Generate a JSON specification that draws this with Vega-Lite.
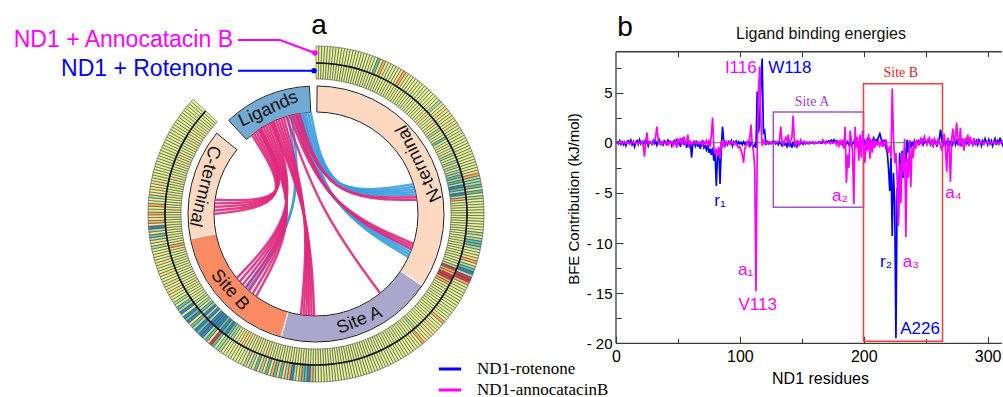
{
"$schema":"https://vega.github.io/schema/vega-lite/v6.json",
"padding":0,
"background":"white",
"config":{"view":{"stroke":null},"font":"Liberation Sans"},
"spacing":0,
"bounds":"flush",
"resolve":{"scale":{"x":"independent","y":"independent","color":"independent"}},
"datasets":{
"bfe":[
{"r":1,"rot":0.15,"ann":0.05},{"r":2,"rot":-0.1,"ann":-0.05},{"r":3,"rot":0.2,"ann":0.1},{"r":4,"rot":-0.15,"ann":0},{"r":5,"rot":0.1,"ann":-0.1},{"r":6,"rot":-0.2,"ann":0.05},{"r":7,"rot":0.05,"ann":0},{"r":8,"rot":-0.3,"ann":-0.05},{"r":9,"rot":0.1,"ann":0.1},{"r":10,"rot":0.2,"ann":0},
{"r":11,"rot":-0.1,"ann":-0.1},{"r":12,"rot":0.25,"ann":0.05},{"r":13,"rot":-0.2,"ann":0},{"r":14,"rot":0.1,"ann":0.1},{"r":15,"rot":-0.4,"ann":-0.05},{"r":16,"rot":0.05,"ann":0},{"r":17,"rot":0.2,"ann":0.05},{"r":18,"rot":-0.15,"ann":-0.1},{"r":19,"rot":0.3,"ann":0.05},{"r":20,"rot":-0.1,"ann":0},
{"r":21,"rot":0.1,"ann":0.1},{"r":22,"rot":-0.2,"ann":-0.3},{"r":23,"rot":0.15,"ann":-1.4},{"r":24,"rot":-0.05,"ann":0.2},{"r":25,"rot":0.2,"ann":1.0},{"r":26,"rot":-0.3,"ann":-0.1},{"r":27,"rot":0.1,"ann":0.05},{"r":28,"rot":0.05,"ann":0},{"r":29,"rot":-0.15,"ann":-0.1},{"r":30,"rot":0.2,"ann":0.1},
{"r":31,"rot":-0.1,"ann":0.2},{"r":32,"rot":0.15,"ann":0.6},{"r":33,"rot":-0.25,"ann":1.6},{"r":34,"rot":0.1,"ann":0.4},{"r":35,"rot":0.3,"ann":-0.1},{"r":36,"rot":-0.1,"ann":0.05},{"r":37,"rot":0.05,"ann":-0.2},{"r":38,"rot":-0.2,"ann":0.1},{"r":39,"rot":0.2,"ann":0},{"r":40,"rot":0.1,"ann":-0.1},
{"r":41,"rot":-0.15,"ann":0.05},{"r":42,"rot":0.25,"ann":-0.2},{"r":43,"rot":-0.05,"ann":0.1},{"r":44,"rot":0.1,"ann":-0.1},{"r":45,"rot":-0.3,"ann":0.05},{"r":46,"rot":0.05,"ann":-0.3},{"r":47,"rot":0.2,"ann":0.1},{"r":48,"rot":-0.2,"ann":0.2},{"r":49,"rot":0.4,"ann":-0.5},{"r":50,"rot":-0.1,"ann":0.3},
{"r":51,"rot":0.3,"ann":0.1},{"r":52,"rot":-0.4,"ann":0.5},{"r":53,"rot":0.1,"ann":-0.2},{"r":54,"rot":0.5,"ann":0.2},{"r":55,"rot":-0.2,"ann":0.6},{"r":56,"rot":0.2,"ann":-0.3},{"r":57,"rot":-0.5,"ann":0.1},{"r":58,"rot":0.1,"ann":0.8},{"r":59,"rot":-0.3,"ann":-0.2},{"r":60,"rot":0.2,"ann":0.1},
{"r":61,"rot":-1.5,"ann":-0.1},{"r":62,"rot":-0.2,"ann":0.05},{"r":63,"rot":0.1,"ann":-0.1},{"r":64,"rot":-0.3,"ann":0.1},{"r":65,"rot":0.2,"ann":0},{"r":66,"rot":-0.4,"ann":-0.1},{"r":67,"rot":0.1,"ann":0.05},{"r":68,"rot":-0.6,"ann":-0.1},{"r":69,"rot":-0.2,"ann":0.1},{"r":70,"rot":0.1,"ann":-0.2},
{"r":71,"rot":-0.5,"ann":0.1},{"r":72,"rot":-0.3,"ann":-0.1},{"r":73,"rot":-0.7,"ann":0.2},{"r":74,"rot":-0.2,"ann":-0.3},{"r":75,"rot":-1.0,"ann":0.3},{"r":76,"rot":-0.6,"ann":-0.4},{"r":77,"rot":-1.2,"ann":0.8},{"r":78,"rot":-0.5,"ann":2.5},{"r":79,"rot":-1.8,"ann":-0.5},{"r":80,"rot":-1.0,"ann":-1.0},
{"r":81,"rot":-4.3,"ann":-0.6},{"r":82,"rot":-1.2,"ann":-1.3},{"r":83,"rot":-0.6,"ann":-0.4},{"r":84,"rot":-4.1,"ann":-1.6},{"r":85,"rot":-0.5,"ann":0.2},{"r":86,"rot":1.6,"ann":-0.5},{"r":87,"rot":0.2,"ann":0.1},{"r":88,"rot":-0.3,"ann":-0.2},{"r":89,"rot":0.1,"ann":0.1},{"r":90,"rot":-0.2,"ann":-0.1},
{"r":91,"rot":0.1,"ann":0.05},{"r":92,"rot":-0.1,"ann":-0.1},{"r":93,"rot":0.2,"ann":0.1},{"r":94,"rot":-0.3,"ann":0},{"r":95,"rot":0.1,"ann":-0.2},{"r":96,"rot":-0.1,"ann":0.05},{"r":97,"rot":0.15,"ann":-0.1},{"r":98,"rot":-0.2,"ann":-0.3},{"r":99,"rot":0.1,"ann":-0.5},{"r":100,"rot":-0.1,"ann":-0.4},
{"r":101,"rot":0.05,"ann":-0.8},{"r":102,"rot":-0.2,"ann":-1.2},{"r":103,"rot":0.1,"ann":-2.0},{"r":104,"rot":-0.15,"ann":-0.6},{"r":105,"rot":0.05,"ann":-0.3},{"r":106,"rot":-0.1,"ann":0.1},{"r":107,"rot":0.1,"ann":-0.2},{"r":108,"rot":-0.3,"ann":0.5},{"r":109,"rot":0.05,"ann":1.8},{"r":110,"rot":-0.2,"ann":-0.3},
{"r":111,"rot":-0.4,"ann":-0.9},{"r":112,"rot":-0.2,"ann":-2.5},{"r":113,"rot":-0.5,"ann":-14.8},{"r":114,"rot":5.1,"ann":-1.0},{"r":115,"rot":1.0,"ann":5.0},{"r":116,"rot":2.0,"ann":7.6},{"r":117,"rot":6.0,"ann":2.0},{"r":118,"rot":8.4,"ann":-0.3},{"r":119,"rot":1.0,"ann":0.2},{"r":120,"rot":1.2,"ann":-0.1},
{"r":121,"rot":-0.2,"ann":0.05},{"r":122,"rot":0.1,"ann":-0.05},{"r":123,"rot":-0.1,"ann":0.1},{"r":124,"rot":0.05,"ann":0},{"r":125,"rot":-0.1,"ann":-0.1},{"r":126,"rot":0.1,"ann":0.05},{"r":127,"rot":-0.05,"ann":0},{"r":128,"rot":0.1,"ann":-0.05},{"r":129,"rot":-0.1,"ann":0.1},{"r":130,"rot":0.05,"ann":0},
{"r":131,"rot":-0.2,"ann":0.1},{"r":132,"rot":0.1,"ann":0.3},{"r":133,"rot":-0.1,"ann":1.6},{"r":134,"rot":-0.3,"ann":0.2},{"r":135,"rot":0.05,"ann":-0.2},{"r":136,"rot":-0.2,"ann":0.1},{"r":137,"rot":-0.1,"ann":0.5},{"r":138,"rot":-0.4,"ann":0.2},{"r":139,"rot":0.05,"ann":0.8},{"r":140,"rot":-0.3,"ann":-0.1},
{"r":141,"rot":-0.1,"ann":0.2},{"r":142,"rot":-0.5,"ann":0.5},{"r":143,"rot":0.1,"ann":2.7},{"r":144,"rot":-0.3,"ann":0.3},{"r":145,"rot":-0.1,"ann":-0.4},{"r":146,"rot":-0.4,"ann":0.2},{"r":147,"rot":0.05,"ann":0.1},{"r":148,"rot":-0.2,"ann":-0.2},{"r":149,"rot":-0.1,"ann":0.3},{"r":150,"rot":0.05,"ann":0.1},
{"r":151,"rot":-0.15,"ann":0},{"r":152,"rot":0.1,"ann":0.1},{"r":153,"rot":-0.1,"ann":-0.05},{"r":154,"rot":0.05,"ann":0.05},{"r":155,"rot":-0.1,"ann":0},{"r":156,"rot":0.05,"ann":-0.1},{"r":157,"rot":0,"ann":0.05},{"r":158,"rot":-0.05,"ann":0},{"r":159,"rot":0.05,"ann":0.1},{"r":160,"rot":-0.1,"ann":-0.05},
{"r":161,"rot":0.05,"ann":0},{"r":162,"rot":0,"ann":0.05},{"r":163,"rot":-0.05,"ann":-0.05},{"r":164,"rot":0.1,"ann":0},{"r":165,"rot":0,"ann":0.1},{"r":166,"rot":-0.05,"ann":0.05},{"r":167,"rot":0.05,"ann":0.3},{"r":168,"rot":0.1,"ann":0.1},{"r":169,"rot":-0.05,"ann":-0.05},{"r":170,"rot":0.15,"ann":0.05},
{"r":171,"rot":0.05,"ann":0},{"r":172,"rot":0.2,"ann":0.1},{"r":173,"rot":0.1,"ann":-0.1},{"r":174,"rot":0.25,"ann":0.05},{"r":175,"rot":0.05,"ann":-0.05},{"r":176,"rot":0.3,"ann":0},{"r":177,"rot":0.1,"ann":0.1},{"r":178,"rot":0.2,"ann":-0.2},{"r":179,"rot":0,"ann":0.1},{"r":180,"rot":0.1,"ann":-0.3},
{"r":181,"rot":-0.1,"ann":0.2},{"r":182,"rot":0.05,"ann":-0.1},{"r":183,"rot":-0.2,"ann":0.3},{"r":184,"rot":0.1,"ann":-0.6},{"r":185,"rot":-0.3,"ann":1.6},{"r":186,"rot":-0.1,"ann":-4.0},{"r":187,"rot":0.1,"ann":-1.2},{"r":188,"rot":-0.2,"ann":-2.5},{"r":189,"rot":0.05,"ann":1.2},{"r":190,"rot":-0.3,"ann":0.3},
{"r":191,"rot":-0.1,"ann":-1.0},{"r":192,"rot":0.1,"ann":-6.1},{"r":193,"rot":-0.2,"ann":1.6},{"r":194,"rot":0.05,"ann":-0.5},{"r":195,"rot":0.1,"ann":0.6},{"r":196,"rot":-0.1,"ann":-1.8},{"r":197,"rot":0.2,"ann":0.8},{"r":198,"rot":-0.1,"ann":-1.5},{"r":199,"rot":0.1,"ann":1.2},{"r":200,"rot":0.3,"ann":-0.3},
{"r":201,"rot":-0.1,"ann":-2.0},{"r":202,"rot":0.2,"ann":0.4},{"r":203,"rot":0.4,"ann":-0.8},{"r":204,"rot":0.1,"ann":0.9},{"r":205,"rot":0.3,"ann":-1.6},{"r":206,"rot":-0.2,"ann":0.3},{"r":207,"rot":0.2,"ann":-1.0},{"r":208,"rot":0.5,"ann":0.4},{"r":209,"rot":0.1,"ann":-0.5},{"r":210,"rot":0.3,"ann":0.2},
{"r":211,"rot":0.2,"ann":-0.2},{"r":212,"rot":0.6,"ann":0.1},{"r":213,"rot":0.9,"ann":-0.3},{"r":214,"rot":0.4,"ann":0.2},{"r":215,"rot":0.2,"ann":-0.4},{"r":216,"rot":-0.3,"ann":0.1},{"r":217,"rot":0.3,"ann":-0.2},{"r":218,"rot":-0.5,"ann":0.3},{"r":219,"rot":-1.0,"ann":-0.5},{"r":220,"rot":-2.5,"ann":-1.0},
{"r":221,"rot":-4.8,"ann":-0.3},{"r":222,"rot":-1.5,"ann":-1.5},{"r":223,"rot":-9.3,"ann":5.4},{"r":224,"rot":-3.0,"ann":0.5},{"r":225,"rot":-6.0,"ann":-2.0},{"r":226,"rot":-19.5,"ann":-1.0},{"r":227,"rot":-4.5,"ann":-3.5},{"r":228,"rot":-7.5,"ann":-8.3},{"r":229,"rot":-1.0,"ann":-2.0},{"r":230,"rot":-5.0,"ann":-6.0},
{"r":231,"rot":-0.8,"ann":-1.0},{"r":232,"rot":-3.5,"ann":-3.0},{"r":233,"rot":-0.5,"ann":0.4},{"r":234,"rot":-2.0,"ann":-9.4},{"r":235,"rot":0.3,"ann":-1.5},{"r":236,"rot":-1.0,"ann":-3.5},{"r":237,"rot":0.2,"ann":0.3},{"r":238,"rot":-0.5,"ann":-4.4},{"r":239,"rot":0.1,"ann":-0.5},{"r":240,"rot":-0.3,"ann":-1.5},
{"r":241,"rot":0.2,"ann":0.2},{"r":242,"rot":-0.1,"ann":-0.6},{"r":243,"rot":0.1,"ann":0.3},{"r":244,"rot":0.2,"ann":-0.2},{"r":245,"rot":-0.1,"ann":0.1},{"r":246,"rot":0.1,"ann":0.4},{"r":247,"rot":0.3,"ann":-0.1},{"r":248,"rot":-0.2,"ann":0.2},{"r":249,"rot":0.1,"ann":0.6},{"r":250,"rot":0.2,"ann":0.1},
{"r":251,"rot":-0.1,"ann":-0.2},{"r":252,"rot":0.3,"ann":0.3},{"r":253,"rot":0.1,"ann":0.5},{"r":254,"rot":-0.2,"ann":-0.1},{"r":255,"rot":0.2,"ann":0.2},{"r":256,"rot":-0.3,"ann":-0.3},{"r":257,"rot":0.1,"ann":0.4},{"r":258,"rot":0.2,"ann":0.1},{"r":259,"rot":-0.4,"ann":-0.2},{"r":260,"rot":0.1,"ann":0.3},
{"r":261,"rot":0.4,"ann":0.1},{"r":262,"rot":1.3,"ann":-0.3},{"r":263,"rot":0.3,"ann":-0.8},{"r":264,"rot":-0.2,"ann":0.2},{"r":265,"rot":0.2,"ann":0.9},{"r":266,"rot":-0.3,"ann":-0.5},{"r":267,"rot":0.1,"ann":-2.9},{"r":268,"rot":0.3,"ann":0.5},{"r":269,"rot":-0.2,"ann":-0.6},{"r":270,"rot":0.2,"ann":-3.9},
{"r":271,"rot":-0.4,"ann":0.4},{"r":272,"rot":0.1,"ann":1.4},{"r":273,"rot":0.3,"ann":-0.2},{"r":274,"rot":-0.2,"ann":0.6},{"r":275,"rot":0.2,"ann":2.0},{"r":276,"rot":-0.1,"ann":0.3},{"r":277,"rot":0.4,"ann":-0.3},{"r":278,"rot":-0.3,"ann":1.5},{"r":279,"rot":0.1,"ann":-0.4},{"r":280,"rot":0.3,"ann":0.3},
{"r":281,"rot":-0.2,"ann":-0.8},{"r":282,"rot":0.2,"ann":0.5},{"r":283,"rot":-0.1,"ann":0.2},{"r":284,"rot":0.3,"ann":0.8},{"r":285,"rot":-0.3,"ann":-0.3},{"r":286,"rot":0.2,"ann":0.6},{"r":287,"rot":0.1,"ann":0.1},{"r":288,"rot":-0.2,"ann":-0.2},{"r":289,"rot":0.4,"ann":0.3},{"r":290,"rot":-0.1,"ann":0.1},
{"r":291,"rot":0.2,"ann":-0.1},{"r":292,"rot":-0.2,"ann":0.2},{"r":293,"rot":0.3,"ann":0.05},{"r":294,"rot":0.1,"ann":-0.1},{"r":295,"rot":-0.3,"ann":0.1},{"r":296,"rot":0.2,"ann":0},{"r":297,"rot":-0.1,"ann":-0.05},{"r":298,"rot":0.4,"ann":0.1},{"r":299,"rot":0.1,"ann":0},{"r":300,"rot":-0.2,"ann":-0.1},
{"r":301,"rot":0.3,"ann":0.05},{"r":302,"rot":-0.1,"ann":0.1},{"r":303,"rot":0.2,"ann":-0.05},{"r":304,"rot":-0.3,"ann":0},{"r":305,"rot":0.1,"ann":0.1},{"r":306,"rot":0.4,"ann":-0.05},{"r":307,"rot":-0.2,"ann":0.05},{"r":308,"rot":0.2,"ann":0},{"r":309,"rot":-0.1,"ann":-0.1},{"r":310,"rot":0.5,"ann":0.05},
{"r":311,"rot":0.1,"ann":0},{"r":312,"rot":-0.2,"ann":0.1},{"r":313,"rot":0.3,"ann":-0.05},{"r":314,"rot":-0.1,"ann":0},{"r":315,"rot":0.2,"ann":0.05},{"r":316,"rot":0.1,"ann":-0.1},{"r":317,"rot":-0.2,"ann":0},{"r":318,"rot":0.1,"ann":0.05}
],
"chords":[
{"c":"H1","g":"rot","s":0,"x":-0.1736,"y":0.9848},{"c":"H1","g":"rot","s":1,"x":0.0978,"y":0.1597},{"c":"H1","g":"rot","s":2,"x":0.9563,"y":0.2924},
{"c":"H2","g":"rot","s":0,"x":-0.1392,"y":0.9903},{"c":"H2","g":"rot","s":1,"x":0.1031,"y":0.1572},{"c":"H2","g":"rot","s":2,"x":0.9636,"y":0.2672},
{"c":"H3","g":"rot","s":0,"x":-0.1045,"y":0.9945},{"c":"H3","g":"rot","s":1,"x":0.1082,"y":0.1546},{"c":"H3","g":"rot","s":2,"x":0.9703,"y":0.2419},
{"c":"H4","g":"rot","s":0,"x":-0.0785,"y":0.9969},{"c":"H4","g":"rot","s":1,"x":0.1122,"y":0.1517},{"c":"H4","g":"rot","s":2,"x":0.9763,"y":0.2164},
{"c":"H5","g":"rot","s":0,"x":-0.0523,"y":0.9986},{"c":"H5","g":"rot","s":1,"x":0.1162,"y":0.1487},{"c":"H5","g":"rot","s":2,"x":0.9816,"y":0.1908},
{"c":"G1","g":"rot","s":0,"x":-0.2250,"y":0.9744},{"c":"G1","g":"rot","s":1,"x":0.0890,"y":0.0780},{"c":"G1","g":"rot","s":2,"x":0.9367,"y":-0.3502},
{"c":"G2","g":"rot","s":0,"x":-0.1908,"y":0.9816},{"c":"G2","g":"rot","s":1,"x":0.0921,"y":0.0759},{"c":"G2","g":"rot","s":2,"x":0.9272,"y":-0.3746},
{"c":"G3","g":"rot","s":0,"x":-0.1564,"y":0.9877},{"c":"G3","g":"rot","s":1,"x":0.0951,"y":0.0736},{"c":"G3","g":"rot","s":2,"x":0.9171,"y":-0.3987},
{"c":"G4","g":"rot","s":0,"x":-0.1219,"y":0.9925},{"c":"G4","g":"rot","s":1,"x":0.0981,"y":0.0712},{"c":"G4","g":"rot","s":2,"x":0.9063,"y":-0.4226},
{"c":"I1","g":"rot","s":0,"x":-0.2756,"y":0.9613},{"c":"I1","g":"rot","s":1,"x":-0.1181,"y":0.0273},{"c":"I1","g":"rot","s":2,"x":-0.6691,"y":-0.7431},
{"c":"I2","g":"rot","s":0,"x":-0.2419,"y":0.9703},{"c":"I2","g":"rot","s":1,"x":-0.1171,"y":0.0314},{"c":"I2","g":"rot","s":2,"x":-0.6947,"y":-0.7193},
{"c":"A1","g":"ann","s":0,"x":-0.6293,"y":0.7771},{"c":"A1","g":"ann","s":1,"x":-0.2037,"y":0.0971},{"c":"A1","g":"ann","s":2,"x":-1.0,"y":0.0},
{"c":"A2","g":"ann","s":0,"x":-0.6088,"y":0.7934},{"c":"A2","g":"ann","s":1,"x":-0.2010,"y":0.1035},{"c":"A2","g":"ann","s":2,"x":-0.9994,"y":0.0349},
{"c":"A3","g":"ann","s":0,"x":-0.5878,"y":0.8090},{"c":"A3","g":"ann","s":1,"x":-0.1982,"y":0.1099},{"c":"A3","g":"ann","s":2,"x":-0.9976,"y":0.0698},
{"c":"A4","g":"ann","s":0,"x":-0.5664,"y":0.8241},{"c":"A4","g":"ann","s":1,"x":-0.1951,"y":0.1161},{"c":"A4","g":"ann","s":2,"x":-0.9945,"y":0.1045},
{"c":"A5","g":"ann","s":0,"x":-0.5446,"y":0.8387},{"c":"A5","g":"ann","s":1,"x":-0.1919,"y":0.1222},{"c":"A5","g":"ann","s":2,"x":-0.9903,"y":0.1392},
{"c":"B1","g":"ann","s":0,"x":-0.5592,"y":0.8290},{"c":"B1","g":"ann","s":1,"x":-0.1434,"y":0.0025},{"c":"B1","g":"ann","s":2,"x":-0.5878,"y":-0.8090},
{"c":"B2","g":"ann","s":0,"x":-0.5373,"y":0.8434},{"c":"B2","g":"ann","s":1,"x":-0.1450,"y":0.0076},{"c":"B2","g":"ann","s":2,"x":-0.6225,"y":-0.7826},
{"c":"B3","g":"ann","s":0,"x":-0.5150,"y":0.8572},{"c":"B3","g":"ann","s":1,"x":-0.1464,"y":0.0128},{"c":"B3","g":"ann","s":2,"x":-0.6561,"y":-0.7547},
{"c":"B4","g":"ann","s":0,"x":-0.4924,"y":0.8704},{"c":"B4","g":"ann","s":1,"x":-0.1476,"y":0.0181},{"c":"B4","g":"ann","s":2,"x":-0.6884,"y":-0.7254},
{"c":"B5","g":"ann","s":0,"x":-0.4695,"y":0.8829},{"c":"B5","g":"ann","s":1,"x":-0.1486,"y":0.0235},{"c":"B5","g":"ann","s":2,"x":-0.7193,"y":-0.6947},
{"c":"B6","g":"ann","s":0,"x":-0.4462,"y":0.8949},{"c":"B6","g":"ann","s":1,"x":-0.1494,"y":0.0290},{"c":"B6","g":"ann","s":2,"x":-0.7490,"y":-0.6626},
{"c":"B7","g":"ann","s":0,"x":-0.4226,"y":0.9063},{"c":"B7","g":"ann","s":1,"x":-0.1500,"y":0.0346},{"c":"B7","g":"ann","s":2,"x":-0.7771,"y":-0.6293},
{"c":"C1","g":"ann","s":0,"x":-0.4384,"y":0.8988},{"c":"C1","g":"ann","s":1,"x":-0.0570,"y":-0.0126},{"c":"C1","g":"ann","s":2,"x":-0.0175,"y":-0.9998},
{"c":"C2","g":"ann","s":0,"x":-0.4147,"y":0.9100},{"c":"C2","g":"ann","s":1,"x":-0.0573,"y":-0.0111},{"c":"C2","g":"ann","s":2,"x":-0.0436,"y":-0.9990},
{"c":"C3","g":"ann","s":0,"x":-0.3907,"y":0.9205},{"c":"C3","g":"ann","s":1,"x":-0.0576,"y":-0.0096},{"c":"C3","g":"ann","s":2,"x":-0.0698,"y":-0.9976},
{"c":"C4","g":"ann","s":0,"x":-0.3665,"y":0.9304},{"c":"C4","g":"ann","s":1,"x":-0.0578,"y":-0.0081},{"c":"C4","g":"ann","s":2,"x":-0.0958,"y":-0.9954},
{"c":"C5","g":"ann","s":0,"x":-0.3420,"y":0.9397},{"c":"C5","g":"ann","s":1,"x":-0.0580,"y":-0.0066},{"c":"C5","g":"ann","s":2,"x":-0.1219,"y":-0.9925},
{"c":"C6","g":"ann","s":0,"x":-0.3173,"y":0.9483},{"c":"C6","g":"ann","s":1,"x":-0.0581,"y":-0.0051},{"c":"C6","g":"ann","s":2,"x":-0.1478,"y":-0.9890},
{"c":"D1","g":"ann","s":0,"x":-0.2924,"y":0.9563},{"c":"D1","g":"ann","s":1,"x":0.0421,"y":0.0224},{"c":"D1","g":"ann","s":2,"x":0.6293,"y":-0.7771},
{"c":"E1","g":"ann","s":0,"x":-0.2588,"y":0.9659},{"c":"E1","g":"ann","s":1,"x":0.0872,"y":0.0842},{"c":"E1","g":"ann","s":2,"x":0.9563,"y":-0.2924},
{"c":"E2","g":"ann","s":0,"x":-0.2334,"y":0.9724},{"c":"E2","g":"ann","s":1,"x":0.0894,"y":0.0819},{"c":"E2","g":"ann","s":2,"x":0.9483,"y":-0.3173},
{"c":"E3","g":"ann","s":0,"x":-0.2079,"y":0.9781},{"c":"E3","g":"ann","s":1,"x":0.0915,"y":0.0795},{"c":"E3","g":"ann","s":2,"x":0.9397,"y":-0.3420},
{"c":"F1","g":"ann","s":0,"x":-0.1908,"y":0.9816},{"c":"F1","g":"ann","s":1,"x":0.0994,"y":0.1433},{"c":"F1","g":"ann","s":2,"x":0.9863,"y":0.1650},
{"c":"F2","g":"ann","s":0,"x":-0.1650,"y":0.9863},{"c":"F2","g":"ann","s":1,"x":0.1032,"y":0.1407},{"c":"F2","g":"ann","s":2,"x":0.9903,"y":0.1392}
]
},
"hconcat":[
{
"width":560,"height":397,
"layer":[
{"data":{"name":"bfe"},"mark":{"type":"arc","radius":151,"radius2":135,"stroke":"#3a3a3a","strokeWidth":0.55},
"encoding":{"x":{"datum":0,"type":"quantitative","axis":null,"scale":{"domain":[-3.098,2.392],"nice":false,"zero":false}},"y":{"datum":0,"type":"quantitative","axis":null,"scale":{"domain":[-1.794,2.098],"nice":false,"zero":false}},
"theta":{"aggregate":"count","type":"quantitative","stack":true,"scale":{"domain":[0,365.7]}},"order":{"field":"r","type":"quantitative"},"detail":{"field":"r","type":"quantitative"},
"fill":{"field":"rot","type":"quantitative","scale":{"type":"threshold","domain":[-3,-1,-0.4,0.4,1,3],"range":["#3288bd","#66c2a5","#abdda4","#e6f598","#fee08b","#fdae61","#d53e4f"]},"legend":null}}},
{"data":{"name":"bfe"},"mark":{"type":"arc","radius":168,"radius2":151,"stroke":"#3a3a3a","strokeWidth":0.55},
"encoding":{"x":{"datum":0,"type":"quantitative","axis":null},"y":{"datum":0,"type":"quantitative","axis":null},
"theta":{"aggregate":"count","type":"quantitative","stack":true,"scale":{"domain":[0,365.7]}},"order":{"field":"r","type":"quantitative"},"detail":{"field":"r","type":"quantitative"},
"fill":{"field":"ann","type":"quantitative","scale":{"type":"threshold","domain":[-3,-1,-0.4,0.4,1,3],"range":["#3288bd","#66c2a5","#abdda4","#e6f598","#fee08b","#fdae61","#d53e4f"]},"legend":null}}},
{"data":{"values":[{"s":0,"e":318}]},"mark":{"type":"arc","radius":151.8,"radius2":150.2,"fill":"#111111"},
"encoding":{"x":{"datum":0,"type":"quantitative","axis":null},"y":{"datum":0,"type":"quantitative","axis":null},"theta":{"field":"s","type":"quantitative","stack":null},"theta2":{"field":"e"}}},
{"data":{"values":[{"seg":"N-terminal","s":0.5,"e":126},{"seg":"Site A","s":126,"e":199},{"seg":"Site B","s":199,"e":263},{"seg":"C-terminal","s":263,"e":314},{"seg":"Ligands","s":322,"e":362.7}]},
"mark":{"type":"arc","radius":128,"radius2":102,"stroke":"white","strokeWidth":1},
"encoding":{"x":{"datum":0,"type":"quantitative","axis":null},"y":{"datum":0,"type":"quantitative","axis":null},"theta":{"field":"s","type":"quantitative","stack":null},"theta2":{"field":"e"},
"color":{"field":"seg","type":"nominal","scale":{"domain":["N-terminal","Site A","Site B","C-terminal","Ligands"],"range":["#fdd9c2","#aba7cc","#fb8b63","#fdd9c2","#72aad3"]},"legend":null}}},
{"data":{"values":[{"s":0.5,"e":314},{"s":322,"e":362.7}]},"mark":{"type":"arc","radius":128,"radius2":102,"filled":false,"stroke":"#1e1e1e","strokeWidth":1},
"encoding":{"x":{"datum":0,"type":"quantitative","axis":null},"y":{"datum":0,"type":"quantitative","axis":null},"theta":{"field":"s","type":"quantitative","stack":null},"theta2":{"field":"e"}}},
{"data":{"values":[{"seg":"N-terminal","at":64.9}]},"mark":{"type":"text","radius":115,"angle":244,"fontSize":18,"align":"center","baseline":"middle","color":"#111111"},
"encoding":{"x":{"datum":0,"type":"quantitative","axis":null},"y":{"datum":0,"type":"quantitative","axis":null},"theta":{"field":"at","type":"quantitative","stack":null},"text":{"field":"seg"}}},
{"data":{"values":[{"seg":"Site A","at":160.3}]},"mark":{"type":"text","radius":115,"angle":338,"fontSize":18,"align":"center","baseline":"middle","color":"#111111"},
"encoding":{"x":{"datum":0,"type":"quantitative","axis":null},"y":{"datum":0,"type":"quantitative","axis":null},"theta":{"field":"at","type":"quantitative","stack":null},"text":{"field":"seg"}}},
{"data":{"values":[{"seg":"Site B","at":232.1}]},"mark":{"type":"text","radius":115,"angle":48.5,"fontSize":18,"align":"center","baseline":"middle","color":"#111111"},
"encoding":{"x":{"datum":0,"type":"quantitative","axis":null},"y":{"datum":0,"type":"quantitative","axis":null},"theta":{"field":"at","type":"quantitative","stack":null},"text":{"field":"seg"}}},
{"data":{"values":[{"seg":"C-terminal","at":288.5}]},"mark":{"type":"text","radius":115,"angle":104,"fontSize":18,"align":"center","baseline":"middle","color":"#111111"},
"encoding":{"x":{"datum":0,"type":"quantitative","axis":null},"y":{"datum":0,"type":"quantitative","axis":null},"theta":{"field":"at","type":"quantitative","stack":null},"text":{"field":"seg"}}},
{"data":{"values":[{"seg":"Ligands","at":340.9}]},"mark":{"type":"text","radius":115,"angle":335.6,"fontSize":18,"align":"center","baseline":"middle","color":"#111111"},
"encoding":{"x":{"datum":0,"type":"quantitative","axis":null},"y":{"datum":0,"type":"quantitative","axis":null},"theta":{"field":"at","type":"quantitative","stack":null},"text":{"field":"seg"}}},
{"data":{"name":"chords"},"mark":{"type":"line","interpolate":"basis","strokeWidth":2.4,"opacity":0.9},
"encoding":{"x":{"field":"x","type":"quantitative","axis":null},"y":{"field":"y","type":"quantitative","axis":null},"detail":{"field":"c","type":"nominal"},"order":{"field":"s","type":"quantitative"},
"stroke":{"field":"g","type":"nominal","scale":{"domain":["ann","rot"],"range":["#e0287c","#3b9de0"]},"legend":null}}},
{"data":{"values":[{"s":0,"x":-0.7647,"y":1.7059},{"s":1,"x":-0.3529,"y":1.7059},{"s":2,"x":-0.0098,"y":1.5784}]},"mark":{"type":"line","color":"#ff00ff","strokeWidth":2},
"encoding":{"x":{"field":"x","type":"quantitative","axis":null},"y":{"field":"y","type":"quantitative","axis":null},"order":{"field":"s","type":"quantitative"}}},
{"data":{"values":[{"s":0,"x":-0.7647,"y":1.4049},{"s":1,"x":-0.0196,"y":1.4049}]},"mark":{"type":"line","color":"#0000ff","strokeWidth":2},
"encoding":{"x":{"field":"x","type":"quantitative","axis":null},"y":{"field":"y","type":"quantitative","axis":null},"order":{"field":"s","type":"quantitative"}}},
{"data":{"values":[{"x":-0.0098,"y":1.5784}]},"mark":{"type":"point","filled":true,"size":30,"color":"#ff00ff","opacity":1},
"encoding":{"x":{"field":"x","type":"quantitative","axis":null},"y":{"field":"y","type":"quantitative","axis":null}}},
{"data":{"values":[{"x":-0.0196,"y":1.4049}]},"mark":{"type":"point","filled":true,"size":30,"color":"#0000ff","opacity":1},
"encoding":{"x":{"field":"x","type":"quantitative","axis":null},"y":{"field":"y","type":"quantitative","axis":null}}},
{"data":{"values":[{"t":"ND1 + Annocatacin B","x":-0.8137,"y":1.7059}]},"mark":{"type":"text","align":"right","baseline":"middle","fontSize":23,"color":"#ff00ff"},
"encoding":{"x":{"field":"x","type":"quantitative","axis":null},"y":{"field":"y","type":"quantitative","axis":null},"text":{"field":"t"}}},
{"data":{"values":[{"t":"ND1 + Rotenone","x":-0.8137,"y":1.4216}]},"mark":{"type":"text","align":"right","baseline":"middle","fontSize":23,"color":"#0000ff"},
"encoding":{"x":{"field":"x","type":"quantitative","axis":null},"y":{"field":"y","type":"quantitative","axis":null},"text":{"field":"t"}}},
{"data":{"values":[{"t":"a","x":0.0294,"y":1.843}]},"mark":{"type":"text","align":"center","baseline":"middle","fontSize":28,"color":"#000000"},
"encoding":{"x":{"field":"x","type":"quantitative","axis":null},"y":{"field":"y","type":"quantitative","axis":null},"text":{"field":"t"}}}
]
},
{
"width":443,"height":397,
"resolve":{"axis":{"x":"independent","y":"independent"}},
"layer":[
{"data":{"values":[{"x1":127,"x2":199.8,"y1":-6.43,"y2":3.07}]},"mark":{"type":"rect","filled":false,"stroke":"#a052d8","strokeWidth":1.5},
"encoding":{"x":{"field":"x1","type":"quantitative","axis":null},"x2":{"field":"x2"},"y":{"field":"y1","type":"quantitative","axis":null},"y2":{"field":"y2"}}},
{"data":{"values":[{"x1":199.8,"x2":263.6,"y1":-19.8,"y2":5.88}]},"mark":{"type":"rect","filled":false,"stroke":"#ff3b3b","strokeWidth":1.5},
"encoding":{"x":{"field":"x1","type":"quantitative","axis":null},"x2":{"field":"x2"},"y":{"field":"y1","type":"quantitative","axis":null},"y2":{"field":"y2"}}},
{"data":{"values":[{}]},"mark":{"type":"rule","color":"#1fa31f","strokeWidth":1},
"encoding":{"x":{"datum":0,"axis":null},"x2":{"datum":311.5},"y":{"datum":0,"axis":null}}},
{"data":{"name":"bfe"},"mark":{"type":"line","strokeWidth":1.7,"clip":true},
"encoding":{
"x":{"field":"r","type":"quantitative","scale":{"domain":[-45.21,312.43],"nice":false,"zero":false},
"axis":{"values":[0,100,200,300],"orient":"bottom","offset":-53.7,"domain":false,"grid":false,"tickSize":-7,"tickColor":"#333333","tickWidth":1,"labelPadding":12,"labelFontSize":16,"labelColor":"#000000","labelFlush":false,"title":"ND1 residues","titleFontSize":16,"titleFontWeight":"normal","titleColor":"#000000","titleX":260,"titlePadding":6}},
"y":{"field":"rot","type":"quantitative","scale":{"domain":[-25.35,14.23],"nice":false,"zero":false},
"axis":{"values":[-20,-15,-10,-5,0,5],"orient":"left","offset":-56,"domain":false,"grid":false,"tickSize":-7,"tickColor":"#333333","tickWidth":1,"labelPadding":11,"labelFontSize":15,"labelColor":"#000000","labelFlush":false,"labelExpr":"datum.value < 0 ? '- ' + abs(datum.value) : datum.label","title":"BFE Contribution (kJ/mol)","titleFontSize":15,"titleFontWeight":"normal","titleColor":"#000000","titlePadding":5}},
"color":{"datum":"ND1-rotenone","type":"nominal","scale":{"domain":["ND1-rotenone","ND1-annocatacinB"],"range":["#0000ff","#ff00ff"]},
"legend":{"orient":"none","legendX":-123,"legendY":356,"title":null,"symbolType":"stroke","symbolSize":500,"symbolStrokeWidth":3,"labelFont":"Liberation Serif","labelFontSize":17,"labelColor":"#000000","labelOffset":14,"rowPadding":-4,"padding":0}}}},
{"data":{"name":"bfe"},"mark":{"type":"line","strokeWidth":1.7,"clip":true},
"encoding":{
"x":{"field":"r","type":"quantitative","axis":{"values":[50,150,250],"orient":"bottom","offset":-53.7,"domain":false,"grid":false,"tickSize":-5,"tickColor":"#333333","tickWidth":1,"labels":false,"title":null}},
"y":{"field":"ann","type":"quantitative","axis":{"values":[-17.5,-12.5,-7.5,-2.5,2.5,7.5],"orient":"left","offset":-56,"domain":false,"grid":false,"tickSize":-5,"tickColor":"#333333","tickWidth":1,"labels":false,"title":null}},
"color":{"datum":"ND1-annocatacinB","type":"nominal"}}},
{"data":{"values":[{}]},"mark":{"type":"rule","color":"#3a3a3a","strokeWidth":1.3},
"encoding":{"x":{"datum":0,"axis":{"values":[50,100,150,200,250,300],"orient":"top","offset":-51.7,"domain":false,"grid":false,"tickSize":-5,"tickColor":"#333333","tickWidth":1,"labels":false,"title":null}},"x2":{"datum":311.5},"y":{"datum":9.07,"axis":null}}},
{"data":{"values":[{}]},"mark":{"type":"rule","color":"#3a3a3a","strokeWidth":1.3},
"encoding":{"x":{"datum":0,"axis":null},"x2":{"datum":311.5},"y":{"datum":-20,"axis":null}}},
{"data":{"values":[{}]},"mark":{"type":"rule","color":"#3a3a3a","strokeWidth":1.3},
"encoding":{"x":{"datum":0,"axis":null},"y":{"datum":-20,"axis":null},"y2":{"datum":9.07}}},
{"data":{"values":[{"t":"r₁","x":84.0,"y":-5.83},{"t":"r₂","x":218.0,"y":-11.89},{"t":"A226","x":245.4,"y":-18.62}]},"mark":{"type":"text","align":"center","baseline":"middle","fontSize":17,"color":"#0000ff"},
"encoding":{"x":{"field":"x","type":"quantitative","axis":null},"y":{"field":"y","type":"quantitative","axis":null},"text":{"field":"t"}}},
{"data":{"values":[{"t":"W118","x":122.9,"y":7.42}]},"mark":{"type":"text","align":"left","baseline":"middle","fontSize":17,"color":"#0000ff"},
"encoding":{"x":{"field":"x","type":"quantitative","axis":null},"y":{"field":"y","type":"quantitative","axis":null},"text":{"field":"t"}}},
{"data":{"values":[{"t":"a₁","x":104.7,"y":-12.69},{"t":"V113","x":114.4,"y":-16.18},{"t":"a₂","x":180.8,"y":-5.31},{"t":"a₃","x":238.2,"y":-11.89},{"t":"a₄","x":272.5,"y":-5.06}]},"mark":{"type":"text","align":"center","baseline":"middle","fontSize":17,"color":"#ff00ff"},
"encoding":{"x":{"field":"x","type":"quantitative","axis":null},"y":{"field":"y","type":"quantitative","axis":null},"text":{"field":"t"}}},
{"data":{"values":[{"t":"I116","x":113.6,"y":7.42}]},"mark":{"type":"text","align":"right","baseline":"middle","fontSize":17,"color":"#ff00ff"},
"encoding":{"x":{"field":"x","type":"quantitative","axis":null},"y":{"field":"y","type":"quantitative","axis":null},"text":{"field":"t"}}},
{"data":{"values":[{"t":"Site A","x":158.2,"y":4.09}]},"mark":{"type":"text","align":"center","baseline":"middle","fontSize":14,"font":"Liberation Serif","color":"#9d3fd6"},
"encoding":{"x":{"field":"x","type":"quantitative","axis":null},"y":{"field":"y","type":"quantitative","axis":null},"text":{"field":"t"}}},
{"data":{"values":[{"t":"Site B","x":229.9,"y":6.98}]},"mark":{"type":"text","align":"center","baseline":"middle","fontSize":14,"font":"Liberation Serif","color":"#f02020"},
"encoding":{"x":{"field":"x","type":"quantitative","axis":null},"y":{"field":"y","type":"quantitative","axis":null},"text":{"field":"t"}}},
{"data":{"values":[{"t":"Ligand binding energies","x":165.5,"y":10.84}]},"mark":{"type":"text","align":"center","baseline":"middle","fontSize":16,"color":"#111111"},
"encoding":{"x":{"field":"x","type":"quantitative","axis":null},"y":{"field":"y","type":"quantitative","axis":null},"text":{"field":"t"}}},
{"data":{"values":[{"t":"b","x":7.3,"y":11.48}]},"mark":{"type":"text","align":"center","baseline":"middle","fontSize":28,"color":"#000000"},
"encoding":{"x":{"field":"x","type":"quantitative","axis":null},"y":{"field":"y","type":"quantitative","axis":null},"text":{"field":"t"}}}
]
}
]
}
